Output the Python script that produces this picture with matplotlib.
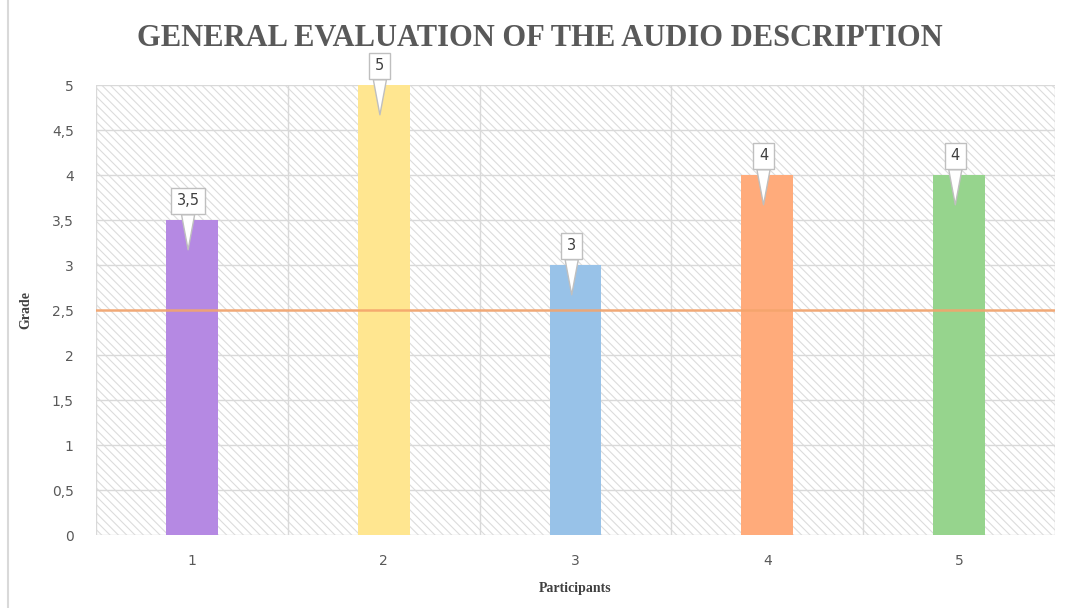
import matplotlib.pyplot as plt
from matplotlib.patches import Rectangle

# data
participants = ['1', '2', '3', '4', '5']
grades = [3.5, 5, 3, 4, 4]
grade_labels = ['3,5', '5', '3', '4', '4']
bar_colors = ['#B589E3', '#FFE690', '#98C2E8', '#FFAB7B', '#96D48D']
threshold = 2.5
y_ticks = [0, 0.5, 1, 1.5, 2, 2.5, 3, 3.5, 4, 4.5, 5]

plt.rcParams['hatch.color'] = '#dcdcdc'
plt.rcParams['hatch.linewidth'] = 0.8

fig = plt.figure(figsize=(10.67, 6.08), dpi=100)
ax = fig.add_axes([0.09, 0.12, 0.8988, 0.74])

# hatched background
ax.add_patch(Rectangle((0, 0), 1, 1, transform=ax.transAxes, facecolor='white',
                       edgecolor='#dcdcdc', hatch='\\\\\\\\', lw=0, zorder=0))

x = list(range(len(participants)))
ax.bar(x, grades, width=0.27, color=bar_colors, zorder=3)
ax.axhline(threshold, color='#F4A46C', lw=1.8, alpha=0.9, zorder=4)

ax.set_xlim(-0.5, len(participants) - 0.5)
ax.set_ylim(0, 5)
ax.set_yticks(y_ticks)
ax.set_yticklabels([f'{t:g}'.replace('.', ',') for t in y_ticks])
ax.set_xticks(x)
ax.set_xticklabels(participants)

# grid lines
for t in y_ticks:
    ax.axhline(t, color='#d9d9d9', lw=1, zorder=1)
for b in [i + 0.5 for i in range(-1, len(participants))]:
    ax.axvline(b, color='#d9d9d9', lw=1, zorder=1)

for s in ax.spines.values():
    s.set_visible(False)
ax.tick_params(length=0, colors='#595959', labelsize=10, pad=14)
ax.tick_params(axis='y', pad=16)

# data label callouts
for xi, g, lab in zip(x, grades, grade_labels):
    ax.annotate(lab, xy=(xi - 0.02, g - 0.33), xytext=(xi - 0.02, g + 0.13),
                ha='center', va='bottom', fontsize=10.5, color='#404040',
                bbox=dict(boxstyle='square,pad=0.4', fc='white', ec='#bfbfbf', lw=1),
                arrowprops=dict(arrowstyle='wedge,tail_width=0.9', fc='white',
                                ec='#bfbfbf', lw=1, shrinkA=0, shrinkB=0),
                annotation_clip=False, zorder=6)

fig.text(0.506, 0.937, 'GENERAL EVALUATION OF THE AUDIO DESCRIPTION', ha='center', va='center',
         fontsize=22, fontweight='bold', family='Liberation Serif', color='#595959')
ax.set_xlabel('Participants', fontsize=10, fontweight='bold', family='Liberation Serif',
              color='#404040', labelpad=10)
ax.set_ylabel('Grade', fontsize=10, fontweight='bold', family='Liberation Serif',
              color='#404040', labelpad=14)

# chart frame
fig.add_artist(plt.Line2D([0.0075, 0.0075], [0, 1], color='#d9d9d9', lw=1.5))

fig.savefig('out.png', dpi=100)
